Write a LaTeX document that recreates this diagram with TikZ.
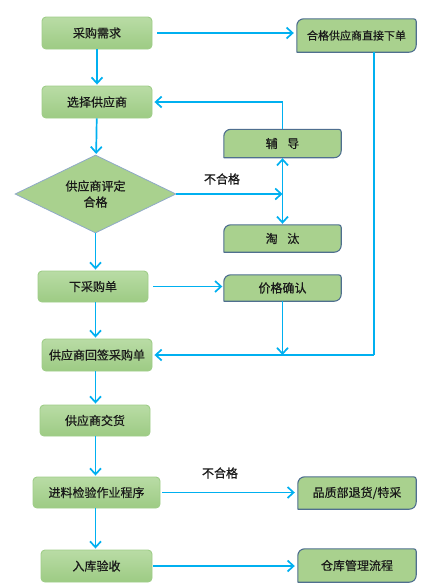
\documentclass[tikz,border=0pt]{standalone}
\usepackage{fontspec}
\newfontfamily\cjk[FakeBold=0.6]{Noto Sans CJK SC}
\usetikzlibrary{arrows.meta,shapes.geometric,backgrounds,calc}
\definecolor{flowline}{HTML}{00B0F0}
\definecolor{gtop}{HTML}{B9DCA5}
\definecolor{gbot}{HTML}{9DCB84}
\definecolor{gborder}{HTML}{9FCD88}
\definecolor{rfill}{HTML}{A9D18E}
\definecolor{rborder}{HTML}{4F6F8F}
\definecolor{dborder}{HTML}{8FA9C8}
\definecolor{txt}{HTML}{1A1A1A}
\tikzset{
  lbox/.style={rectangle, rounded corners=4pt, top color=gtop, bottom color=gbot,
    draw=gborder, line width=0.9pt, inner sep=0pt, text=txt,
    font=\cjk\fontsize{12}{14}\selectfont},
  rbox/.style={rectangle, inner sep=0pt, text=txt, font=\cjk\fontsize{12}{14}\selectfont},
  rshape/.style={fill=rfill, draw=rborder, line width=1.1pt, line join=round},
  dbox/.style={diamond, fill=rfill, draw=dborder, line width=0.8pt, inner sep=0pt,
    aspect=2.06, text=txt, align=center, font=\cjk\fontsize{12}{16}\selectfont},
  lbl/.style={text=txt, font=\cjk\fontsize{12}{14}\selectfont},
  flow/.style={draw=flowline, line width=1.7pt,
    -{Straight Barb[length=6pt,width=11pt]}},
  flowplain/.style={draw=flowline, line width=1.7pt},
  flowboth/.style={draw=flowline, line width=1.7pt,
    {Straight Barb[length=6pt,width=11pt]}-{Straight Barb[length=6pt,width=11pt]}}
}
\newcommand{\rcshape}[1]{%
  \path[rshape] (#1.south west) -- ($(#1.north west)+(0,7)$)
    .. controls ($(#1.north west)+(0,3)$) and ($(#1.north west)+(3,0)$) .. ($(#1.north west)+(7,0)$)
    -- ($(#1.north east)+(-2.5,0)$)
    .. controls ($(#1.north east)+(-1,0)$) and ($(#1.north east)+(0,1)$) .. ($(#1.north east)+(0,2.5)$)
    -- ($(#1.south east)+(0,-7)$)
    .. controls ($(#1.south east)+(0,-3)$) and ($(#1.south east)+(-3,0)$) .. ($(#1.south east)+(-7,0)$)
    -- cycle;}
\begin{document}
\begin{tikzpicture}[x=1pt,y=-1pt]
\useasboundingbox (0,0) rectangle (432,587);
% left column
\node[lbox, minimum width=110pt, minimum height=32pt] (req) at (97,33) {采购需求};
\node[lbox, minimum width=110pt, minimum height=32pt] (sel) at (97,102) {选择供应商};
\node[dbox, minimum width=161pt, minimum height=78pt] (dia) at (95.5,194) {供应商评定\\合格};
\node[lbox, minimum width=110pt, minimum height=31pt] (order) at (93,286.5) {下采购单};
\node[lbox, minimum width=110pt, minimum height=32pt] (sign) at (97,355) {供应商回签采购单};
\node[lbox, minimum width=110pt, minimum height=31pt] (deliv) at (95,420.5) {供应商交货};
\node[lbox, minimum width=127pt, minimum height=31pt] (insp) at (96.5,492.5) {进料检验作业程序};
\node[lbox, minimum width=111pt, minimum height=32pt] (store) at (96.5,566) {入库验收};
% right column
\node[rbox, minimum width=119pt, minimum height=33pt, font=\cjk\fontsize{11}{13}\selectfont] (direct) at (356.5,35.5) {合格供应商直接下单};
\node[rbox, minimum width=117pt, minimum height=28pt] (coach) at (282.5,143.5) {辅\hspace{0.8em}导};
\node[rbox, minimum width=117pt, minimum height=27pt] (elim) at (282.5,238.5) {淘\hspace{0.8em}汰};
\node[rbox, minimum width=117pt, minimum height=26pt] (price) at (282.5,288) {价格确认};
\node[rbox, minimum width=118pt, minimum height=32pt] (qual) at (357,493) {品质部退货/特采};
\node[rbox, minimum width=118pt, minimum height=33pt] (wh) at (357,565.5) {仓库管理流程};
\begin{scope}[on background layer]
\rcshape{direct}
\rcshape{coach}
\rcshape{elim}
\rcshape{price}
\rcshape{qual}
\rcshape{wh}
\end{scope}
% labels
\node[lbl] (ng1) at (222,179) {不合格};
\node[lbl] (ng2) at (220,473) {不合格};
% helper coordinates
\coordinate (dj) at (coach.south |- dia.east);
\coordinate (pj) at (price.south |- sign.east);
\coordinate (dtop) at (374,52);
\coordinate (dcorner) at (374,355);
\coordinate (ctop) at (coach.north |- sel.east);
% vertical main flow
\draw[flow, shorten >=1pt] (req) -- (sel);
\draw[flow, shorten >=1pt] (sel) -- (dia);
\draw[flow, shorten >=1pt] (dia) -- (order.north -| dia.south);
\draw[flow, shorten >=1pt] (dia.south |- order.south) -- (dia.south |- sign.north);
\draw[flow, shorten >=1pt] (dia.south |- sign.south) -- (dia.south |- deliv.north);
\draw[flow, shorten >=1pt] (dia.south |- deliv.south) -- (dia.south |- insp.north);
\draw[flow, shorten >=1pt] (dia.south |- insp.south) -- (dia.south |- store.north);
% horizontal flows
\draw[flow, shorten <=5pt, shorten >=3pt] (req.east) -- (req.east -| direct.west);
\draw[flow] (dia.east) -- (dj);
\draw[flowboth, shorten <=0.5pt, shorten >=1pt] (coach.south) -- (elim.north);
\draw[flow, shorten >=2pt] (coach.north) -- (ctop) -- (sel.east);
\draw[flow, shorten <=5pt, shorten >=1.5pt] (order.east) -- (order.east -| price.west);
\draw[flow] (price.south) -- (pj);
\draw[flowplain] (dtop) -- (dcorner);
\draw[flow, shorten >=2pt] (dcorner) -- (sign.east);
\draw[flow, shorten <=2pt, shorten >=3pt] (insp.east) -- (insp.east -| qual.west);
\draw[flow, shorten <=1pt, shorten >=3pt] (store.east) -- (store.east -| wh.west);
\end{tikzpicture}
\end{document}
